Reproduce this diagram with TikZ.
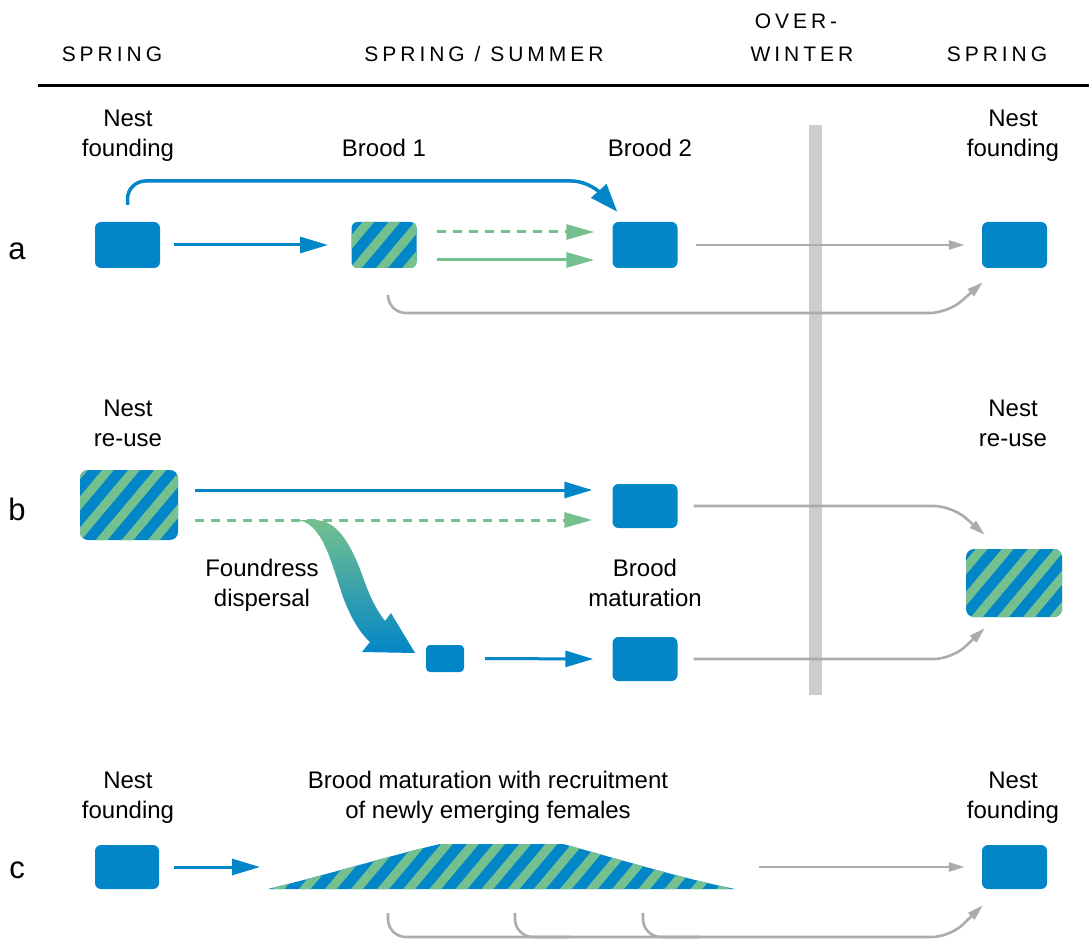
\documentclass[tikz,border=0pt]{standalone}
\usepackage{fontspec}
\setmainfont{Liberation Sans}
\newfontfamily\hdrfont[LetterSpace=19]{Liberation Sans}
\usetikzlibrary{arrows.meta,patterns.meta,calc}
\definecolor{nblue}{RGB}{2,134,200}
\definecolor{ngreen}{RGB}{116,192,142}
\definecolor{ngray}{RGB}{172,172,172}
\definecolor{nbar}{RGB}{205,205,205}
\begin{document}
\begin{tikzpicture}[x=1pt,y=-1pt,
  lbl/.style={font=\fontsize{24}{30}\selectfont, align=center, inner sep=0pt},
  hdr/.style={font={\hdrfont\fontsize{21}{24}\selectfont}, inner sep=0pt, anchor=base},
  rowlbl/.style={font=\fontsize{31}{36}\selectfont, inner sep=0pt, anchor=base},
  bbox/.style={fill=nblue, rounded corners=6pt, minimum width=65pt, minimum height=46pt, inner sep=0pt},
  sbox/.style={rounded corners=6pt, minimum width=65pt, minimum height=46pt, inner sep=0pt,
     preaction={fill=nblue}, pattern={Lines[angle=50,distance=20pt,line width=9pt]}, pattern color=ngreen},
  barr/.style={draw=nblue, line width=3pt, -{Triangle[length=28pt,width=16pt]}},
  barrtop/.style={draw=nblue, line width=3.5pt, rounded corners=18pt, -{Triangle[length=28pt,width=20pt]}},
  garr/.style={draw=ngreen, line width=3pt, -{Triangle[length=28pt,width=15pt]}},
  gdash/.style={garr, dash pattern=on 9pt off 7pt},
  grarr/.style={draw=ngray, line width=2.6pt, rounded corners=18pt, -{Triangle[length=16pt,width=9pt]}},
  grline/.style={draw=ngray, line width=2.6pt, rounded corners=18pt},
]
\useasboundingbox (0,0) rectangle (1089,941);

% header
\node[hdr] (h1) at (112,62) {SPRING};
\node[hdr] (h2) at (484,62) {SPRING / SUMMER};
\node[hdr] (h3) at (796,29) {OVER-};
\node[hdr] (h4) at (802,62) {WINTER};
\node[hdr] (h5) at (997,62) {SPRING};
\draw[line width=3pt] (38,86) -- (1089,86);

% overwinter bar
\fill[nbar] (809,125) rectangle (822,695);

% row labels
\node[rowlbl] (ra) at (17,260) {a};
\node[rowlbl] (rb) at (17,520) {b};
\node[rowlbl] (rc) at (17,878) {c};

% ---------- row a ----------
\node[lbl] (tNa1) at (128,135.5) {Nest\\founding};
\node[lbl] (tB1) at (384,148) {Brood 1};
\node[lbl] (tB2) at (650,148) {Brood 2};
\node[lbl] (tNa2) at (1013,135.5) {Nest\\founding};

\node[bbox] (a1) at (127.5,245) {};
\node[sbox] (a2) at (384,245) {};
\node[bbox] (a3) at (645,245) {};
\node[bbox] (a4) at (1014.5,245) {};

\draw[barr] ([xshift=14pt]a1.east) -- ([xshift=-19pt]a2.west);
\draw[barrtop] ([yshift=17pt]a1.north) |- (590,181) -- ([xshift=5pt,yshift=10pt]a3.north west);
\draw[gdash] ([xshift=16pt,yshift=13pt]a2.east) -- ([xshift=-18pt,yshift=13pt]a3.west);
\draw[garr] ([xshift=16pt,yshift=-15pt]a2.east) -- ([xshift=-18pt,yshift=-15pt]a3.west);
\draw[grarr] ([xshift=18pt]a3.east) -- ([xshift=-17pt]a4.west);
\draw[grarr] ([xshift=4pt,yshift=-24pt]a2.south) |- (948,313) -- ([xshift=1pt,yshift=-14pt]a4.south west);

% ---------- row b ----------
\node[lbl] (tNb1) at (128,423) {Nest\\re-use};
\node[lbl] (tNb2) at (1013,423) {Nest\\re-use};
\node[lbl] (tFd) at (262,585) {Foundress\\dispersal};
\node[lbl] (tBm) at (645,583) {Brood\\maturation};

\node[sbox, minimum width=98pt, minimum height=70pt, rounded corners=8pt] (b1) at (129,505) {};
\node[bbox, minimum height=44pt] (b2) at (645,506) {};
\node[bbox, minimum width=38pt, minimum height=27pt, rounded corners=4pt] (b3) at (445,658.5) {};
\node[bbox, minimum height=44pt] (b4) at (645,659) {};
\node[sbox, minimum width=96pt, minimum height=68pt, rounded corners=8pt] (b5) at (1014,583) {};

\draw[barr] ([xshift=17pt,yshift=15pt]b1.east) -- ([xshift=-20pt,yshift=16pt]b2.west);
\draw[gdash] ([xshift=17pt,yshift=-15pt]b1.east) -- ([xshift=-20pt,yshift=-14pt]b2.west);
% foundress dispersal swoosh
\shade[top color=ngreen, bottom color=nblue]
  (295,520) .. controls (322,520) and (331,562) .. (343,597)
  .. controls (350,616) and (359,632) .. (370,642)
  -- (362,652) -- (415,653) -- (391,613) -- (385,621)
  .. controls (377,611) and (370,597) .. (364,580)
  .. controls (352,546) and (338,520) .. (315,520) -- cycle;
\draw[barr] ([xshift=21pt]b3.east) -- ([xshift=-19pt]b4.west);
\draw[grarr] ([xshift=16pt]b2.east) -- (952,506) -- ([xshift=19pt,yshift=14pt]b5.north west);
\draw[grarr] ([xshift=16pt]b4.east) -- (952,659) -- ([xshift=19pt,yshift=-11pt]b5.south west);

% ---------- row c ----------
\node[lbl] (tNc1) at (128,797.5) {Nest\\founding};
\node[lbl] (tBr) at (488,797.5) {Brood maturation with recruitment\\of newly emerging females};
\node[lbl] (tNc2) at (1013,797.5) {Nest\\founding};

\node[bbox, minimum width=64pt, minimum height=44pt] (c1) at (127,867) {};
\node[bbox, minimum height=44pt] (c4) at (1014.5,867) {};

\coordinate (trapL) at (260,867);
\coordinate (trapR) at (759,867);
\path[preaction={fill=nblue}, pattern={Lines[angle=50,distance=20pt,line width=9pt]}, pattern color=ngreen]
  (268,889) .. controls (330,874) and (392,855) .. (440,844) -- (563,844)
  .. controls (615,858) and (680,878) .. (735,889) -- cycle;

\draw[barr] ([xshift=15pt]c1.east) -- (trapL);
\draw[grarr] (trapR) -- ([xshift=-17pt]c4.west);
\coordinate (cb1) at (388,913);
\coordinate (cb2) at (515,913);
\coordinate (cb3) at (643,913);
\draw[grarr] (cb1) |- (950,937) -- ([xshift=1pt,yshift=-16pt]c4.south west);
\draw[grline] (cb2) |- (570,937);
\draw[grline] (cb3) |- (700,937);
\end{tikzpicture}
\end{document}
